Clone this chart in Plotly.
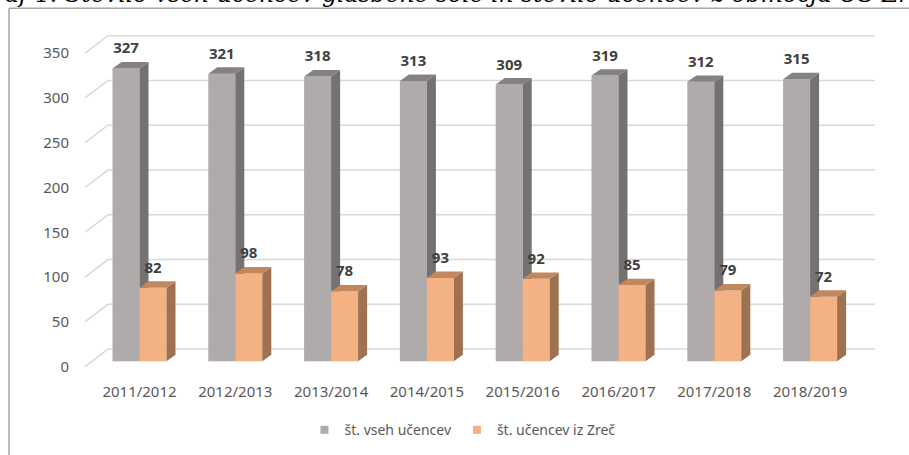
import plotly.graph_objects as go

# ---- data ----
years = ["2011/2012", "2012/2013", "2013/2014", "2014/2015",
         "2015/2016", "2016/2017", "2017/2018", "2018/2019"]
all_students = [327, 321, 318, 313, 309, 319, 312, 315]
zrece_students = [82, 98, 78, 93, 92, 85, 79, 72]
y_ticks = [0, 50, 100, 150, 200, 250, 300, 350]
series_names = ["št. vseh učencev", "št. učencev iz Zreč"]
title_text = "Graf 1: Število vseh učencev glasbene šole in število učencev z območja OŠ Zreče"

# ---- page / plot geometry (pixels) ----
W, H = 909, 455
PLOT_L, PLOT_R, PLOT_T, PLOT_B = 72, 900, 20, 380
PX_PER_CAT = 95.8        # distance between category groups
GROUP0_PX = 139.5        # centre of the first group
PX_PER_UNIT = 0.908      # vertical pixels per student
FLOOR_PX = 366           # bar floor

x_range = [(PLOT_L - GROUP0_PX) / PX_PER_CAT, (PLOT_R - GROUP0_PX) / PX_PER_CAT]
y_range = [(FLOOR_PX - PLOT_B) / PX_PER_UNIT, (FLOOR_PX - PLOT_T) / PX_PER_UNIT]

# 3D extrusion of the bars and of the walls (in data units)
BW = 27 / PX_PER_CAT
DX = 9 / PX_PER_CAT
DY = 6.5 / PX_PER_UNIT
FRONT_SHIFT = -6.0       # value labels / floor front edge
BACK_SHIFT = 13.5        # back wall
FRONT_X = (85 - GROUP0_PX) / PX_PER_CAT
WALL_X0 = (108 - GROUP0_PX) / PX_PER_CAT
WALL_X1 = (875 - GROUP0_PX) / PX_PER_CAT

GRID = "#d9d9d9"
TXT = "#595959"
FONT = "Noto Sans"

GRAY = ("#afabab", "#757171", "#858181")      # front, side, top
ORANGE = ("#f4b183", "#9e7250", "#c1885f")

fig = go.Figure()

# back wall grid and side wall diagonals
gx, gy = [], []
for v in y_ticks:
    gx += [FRONT_X, WALL_X0, WALL_X1, None]
    gy += [v + FRONT_SHIFT, v + BACK_SHIFT, v + BACK_SHIFT, None]
fig.add_trace(go.Scatter(x=gx, y=gy, mode="lines", line=dict(color=GRID, width=1.5),
                         hoverinfo="skip", showlegend=False))


def box_faces(values, left_offset, colors):
    fx, fy, sx, sy, tx, ty = [], [], [], [], [], []
    for i, v in enumerate(values):
        L = i + left_offset
        R = L + BW
        fx += [L, R, R, L, L, None]
        fy += [0, 0, v, v, 0, None]
        sx += [R, R + DX, R + DX, R, R, None]
        sy += [0, DY, v + DY, v, 0, None]
        tx += [L, R, R + DX, L + DX, L, None]
        ty += [v, v, v + DY, v + DY, v, None]
    for xs, ys, c in ((fx, fy, colors[0]), (sx, sy, colors[1]), (tx, ty, colors[2])):
        fig.add_trace(go.Scatter(x=xs, y=ys, mode="lines", fill="toself",
                                 fillcolor=c, line=dict(width=0, color=c),
                                 hoverinfo="skip", showlegend=False))


box_faces(all_students, -BW, GRAY)
box_faces(zrece_students, 0, ORANGE)

# value labels above each bar
LABEL_UP = 12.5 / PX_PER_UNIT
fig.add_trace(go.Scatter(
    x=[i - BW / 2 for i in range(len(years))] + [i + BW / 2 for i in range(len(years))],
    y=[v + DY + LABEL_UP for v in all_students] + [v + DY + LABEL_UP for v in zrece_students],
    text=[str(v) for v in all_students] + [str(v) for v in zrece_students],
    mode="text", textposition="middle center",
    textfont=dict(family=FONT, size=15, color="#404040", weight="bold"),
    hoverinfo="skip", showlegend=False, cliponaxis=False))

# legend entries
for name, c in zip(series_names, (GRAY[0], ORANGE[0])):
    fig.add_trace(go.Scatter(x=[None], y=[None], mode="markers", name=name,
                             marker=dict(symbol="square", size=8, color=c)))

# axis carrying the value tick labels on the front plane
fig.add_trace(go.Scatter(x=[None], y=[None], yaxis="y2", showlegend=False, hoverinfo="skip"))


def px_to_paper_x(px):
    return (px - PLOT_L) / (PLOT_R - PLOT_L)


def px_to_paper_y(py):
    return (PLOT_B - py) / (PLOT_B - PLOT_T)


fig.update_layout(
    width=W, height=H,
    margin=dict(l=PLOT_L, r=W - PLOT_R, t=PLOT_T, b=H - PLOT_B),
    paper_bgcolor="white", plot_bgcolor="white",
    font=dict(family=FONT, color=TXT),
    xaxis=dict(range=x_range, tickvals=list(range(len(years))), ticktext=years,
               showgrid=False, zeroline=False, showline=False, ticks="",
               ticklabelstandoff=6,
               tickfont=dict(size=15, color=TXT), fixedrange=True),
    yaxis=dict(range=y_range, visible=False, fixedrange=True),
    yaxis2=dict(range=[y_range[0] - FRONT_SHIFT, y_range[1] - FRONT_SHIFT],
                overlaying="y", side="left", tickvals=y_ticks,
                showgrid=False, zeroline=False, showline=False, ticks="",
                ticklabelstandoff=2,
                tickfont=dict(size=15, color=TXT), fixedrange=True),
    legend=dict(orientation="h", x=px_to_paper_x(462.5), y=px_to_paper_y(436),
                xanchor="center", yanchor="middle", font=dict(size=14, color=TXT),
                itemwidth=30, bgcolor="rgba(0,0,0,0)"),
    shapes=[
        dict(type="line", xref="paper", yref="paper",
             x0=px_to_paper_x(9), y0=px_to_paper_y(8), x1=px_to_paper_x(920), y1=px_to_paper_y(8),
             line=dict(color="#a6a6a6", width=1.5)),
        dict(type="line", xref="paper", yref="paper",
             x0=px_to_paper_x(9), y0=px_to_paper_y(8), x1=px_to_paper_x(9), y1=px_to_paper_y(470),
             line=dict(color="#a6a6a6", width=1.5)),
    ],
    annotations=[
        dict(text=title_text, xref="paper", yref="paper",
             x=px_to_paper_x(-27), y=px_to_paper_y(4), xanchor="left", yanchor="bottom",
             showarrow=False, yshift=-6,
             font=dict(family="DejaVu Serif", size=23.5, style="italic", color="#000000")),
    ],
)

fig.write_html("out.html")
